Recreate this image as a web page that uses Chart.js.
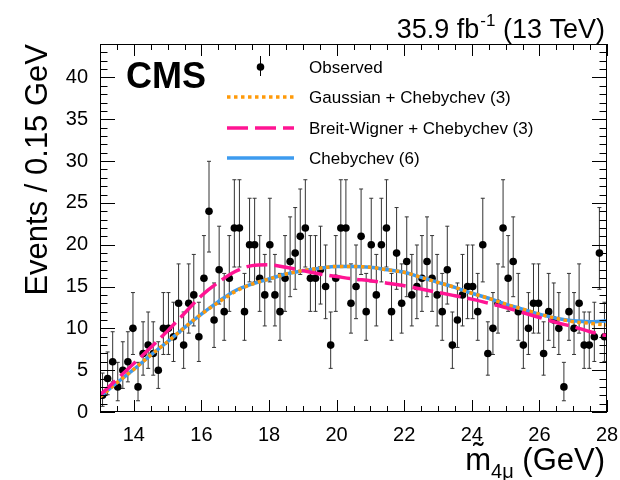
<!DOCTYPE html>
<html>
<head>
<meta charset="utf-8">
<script src="https://cdn.jsdelivr.net/npm/chart.js@4.4.0/dist/chart.umd.min.js"></script>
<style>
  html, body { margin: 0; padding: 0; background: #fff; }
  #wrap { width: 620px; height: 480px; }
</style>
</head>
<body>
<div id="wrap"><canvas id="c" width="620" height="480"></canvas></div>
<script>
// binning of the histogram (GeV)
const binStart = 13;
const binWidth = 0.15;

// observed events per bin (100 bins, 13 to 28 GeV)
const observed = [
  2, 4, 6, 3, 5, 6, 10, 3, 7, 8,
  7, 5, 10, 10, 9, 13, 8, 13, 14, 9,
  16, 24, 11, 17, 12, 16, 22, 22, 12, 20,
  20, 16, 14, 20, 14, 12, 16, 18, 19, 21,
  22, 16, 16, 17, 15, 8, 16, 22, 22, 13,
  15, 21, 12, 20, 14, 20, 22, 12, 19, 13,
  18, 14, 15, 16, 18, 16, 14, 12, 17, 8,
  11, 14, 15, 15, 12, 20, 7, 10, 13, 22,
  16, 18, 12, 8, 10, 13, 13, 7, 12, 11,
  10, 3, 12, 10, 13, 8, 8, 9, 19, 9
];

// fitted curves, sampled every 0.5 GeV
const curveX = [13, 13.5, 14, 14.5, 15, 15.5, 16, 16.5, 17, 17.5, 18, 18.5, 19, 19.5, 20, 20.5,
  21, 21.5, 22, 22.5, 23, 23.5, 24, 24.5, 25, 25.5, 26, 26.5, 27, 27.5, 28];
const gausCheb3 = [1.8, 3.5, 5.1, 6.8, 8.4, 10.1, 11.7, 13.1, 14.4, 15.3, 15.9, 16.5, 16.9, 17.2, 17.4, 17.4,
  17.3, 17.0, 16.7, 16.1, 15.5, 14.9, 14.2, 13.6, 12.9, 12.3, 11.7, 11.2, 10.8, 10.6, 10.4];
const bwCheb3 = [2.0, 3.9, 5.8, 7.7, 9.7, 11.8, 13.9, 15.5, 16.8, 17.5, 17.6, 17.3, 16.9, 16.5, 16.2, 15.9,
  15.7, 15.4, 15.1, 14.7, 14.3, 13.9, 13.5, 13.0, 12.5, 11.9, 11.3, 10.7, 10.2, 9.6, 9.1];
const cheb6 = [1.8, 3.5, 5.1, 6.8, 8.4, 10.1, 11.7, 13.2, 14.5, 15.3, 15.9, 16.5, 16.9, 17.2, 17.4, 17.4,
  17.3, 17.0, 16.7, 16.1, 15.5, 14.9, 14.2, 13.6, 12.9, 12.3, 11.7, 11.2, 10.9, 10.8, 10.9];

const legendLabels = ["Observed", "Gaussian + Chebychev (3)", "Breit-Wigner + Chebychev (3)", "Chebychev (6)"];

const FONT = "'Liberation Sans', Arial, Helvetica, sans-serif";
const ORANGE = "#ff9a0a";
const PINK = "#ff1493";
const BLUE = "#3d9bef";

// Poisson (Garwood-like) interval of a count
const errLow = n => (n > 0 ? n - Math.sqrt(n - 0.25) : 0);
const errHigh = n => n + 1 + Math.sqrt(n + 0.75);

const points = observed.map((n, i) => ({ x: binStart + binWidth * (i + 0.5), y: n }));
const toXY = ys => ys.map((y, i) => ({ x: curveX[i], y: y }));

const rootStyle = {
  id: "rootStyle",
  beforeDatasetsDraw(chart) {
    const { ctx, scales: { x, y } } = chart;
    ctx.save();
    ctx.strokeStyle = "#333";
    ctx.lineWidth = 1;
    observed.forEach((n, i) => {
      const px = x.getPixelForValue(points[i].x);
      const top = y.getPixelForValue(errHigh(n));
      const bot = y.getPixelForValue(errLow(n));
      ctx.beginPath();
      ctx.moveTo(px, top); ctx.lineTo(px, bot);
      ctx.moveTo(px - 2, top); ctx.lineTo(px + 2, top);
      ctx.moveTo(px - 2, bot); ctx.lineTo(px + 2, bot);
      ctx.stroke();
    });
    ctx.restore();
  },
  afterDraw(chart) {
    const { ctx, chartArea: a, scales: { x, y } } = chart;
    ctx.save();
    // frame
    ctx.strokeStyle = "#000";
    ctx.lineWidth = 1;
    ctx.strokeRect(a.left + 0.5, a.top + 0.5, a.right - a.left - 1, a.bottom - a.top - 1);

    // ticks on all four sides, pointing inward
    ctx.beginPath();
    for (let v = 0; v <= y.max + 1e-9; v += 1) {
      const py = Math.round(y.getPixelForValue(v)) + 0.5;
      const len = v % 5 === 0 ? 15 : 7.5;
      ctx.moveTo(a.left, py); ctx.lineTo(a.left + len, py);
      ctx.moveTo(a.right, py); ctx.lineTo(a.right - len, py);
    }
    for (let v = 13; v <= 28 + 1e-9; v += 0.5) {
      const px = Math.round(x.getPixelForValue(v)) + 0.5;
      const len = v % 2 === 0 ? 12 : 6;
      ctx.moveTo(px, a.bottom); ctx.lineTo(px, a.bottom - len);
      ctx.moveTo(px, a.top); ctx.lineTo(px, a.top + len);
    }
    ctx.stroke();

    ctx.fillStyle = "#000";
    ctx.textBaseline = "alphabetic";

    // CMS label
    ctx.font = "bold 36px " + FONT;
    ctx.textAlign = "left";
    ctx.fillText("CMS", 126, 88);

    // luminosity label
    ctx.font = "27px " + FONT;
    const lumiA = "35.9 fb", lumiSup = "-1", lumiB = " (13 TeV)";
    const wA = ctx.measureText(lumiA).width;
    const wB = ctx.measureText(lumiB).width;
    ctx.font = "17px " + FONT;
    const wS = ctx.measureText(lumiSup).width;
    const lx = 605 - wA - wS - wB - 1;
    ctx.font = "27px " + FONT;
    ctx.fillText(lumiA, lx, 38);
    ctx.font = "17px " + FONT;
    ctx.fillText(lumiSup, lx + wA + 1, 26);
    ctx.font = "27px " + FONT;
    ctx.fillText(lumiB, lx + wA + wS + 1, 38);

    // x axis title with subscript
    ctx.font = "31px " + FONT;
    const tA = "m\u0303", tB = " (GeV)";
    const wtA = ctx.measureText(tA).width;
    const wtB = ctx.measureText(tB).width;
    ctx.font = "20px " + FONT;
    const tSub = "4\u03bc";
    const wSub = ctx.measureText(tSub).width;
    const tx = 605 - wtA - wSub - wtB;
    ctx.font = "31px " + FONT;
    ctx.fillText(tA, tx, 470);
    ctx.font = "20px " + FONT;
    ctx.fillText(tSub, tx + wtA, 478);
    ctx.font = "31px " + FONT;
    ctx.fillText(tB, tx + wtA + wSub, 470);

    // legend
    const rows = [67, 97, 128, 158];
    ctx.font = "17px " + FONT;
    ctx.textBaseline = "middle";
    legendLabels.forEach((t, i) => ctx.fillText(t, 309, rows[i] + 1));
    // observed marker
    ctx.strokeStyle = "#000";
    ctx.beginPath();
    ctx.moveTo(260.5, rows[0] - 11); ctx.lineTo(260.5, rows[0] + 9);
    ctx.stroke();
    ctx.beginPath();
    ctx.arc(260.5, rows[0], 3.8, 0, Math.PI * 2);
    ctx.fill();
    // line samples, styled like the datasets
    const ds = chart.data.datasets;
    [1, 2, 3].forEach(k => {
      const d = ds[k];
      ctx.strokeStyle = d.borderColor;
      ctx.lineWidth = d.borderWidth;
      ctx.setLineDash(d.borderDash || []);
      ctx.beginPath();
      ctx.moveTo(227, rows[k]); ctx.lineTo(294, rows[k]);
      ctx.stroke();
    });
    ctx.restore();
  }
};

new Chart(document.getElementById("c"), {
  type: "scatter",
  data: {
    datasets: [
      {
        label: legendLabels[0],
        data: points,
        showLine: false,
        pointRadius: 3.8,
        pointBackgroundColor: "#000",
        pointBorderWidth: 0,
        order: 4
      },
      {
        label: legendLabels[1],
        data: toXY(gausCheb3),
        showLine: true,
        borderColor: ORANGE,
        borderWidth: 3.5,
        borderDash: [3.5, 3.5],
        pointRadius: 0,
        cubicInterpolationMode: "monotone",
        order: 2
      },
      {
        label: legendLabels[2],
        data: toXY(bwCheb3),
        showLine: true,
        borderColor: PINK,
        borderWidth: 3.5,
        borderDash: [21, 7],
        pointRadius: 0,
        cubicInterpolationMode: "monotone",
        order: 1
      },
      {
        label: legendLabels[3],
        data: toXY(cheb6),
        showLine: true,
        borderColor: BLUE,
        borderWidth: 3.5,
        pointRadius: 0,
        cubicInterpolationMode: "monotone",
        order: 3
      }
    ]
  },
  options: {
    responsive: false,
    animation: false,
    devicePixelRatio: 1,
    layout: { padding: { top: 44, right: 13, left: 0, bottom: 0 } },
    plugins: { legend: { display: false }, tooltip: { enabled: false } },
    scales: {
      x: {
        type: "linear",
        min: 13,
        max: 28,
        border: { display: false },
        grid: { display: false, drawTicks: false },
        ticks: {
          stepSize: 2,
          includeBounds: false,
          padding: 11,
          color: "#000",
          font: { size: 20, family: FONT },
          maxRotation: 0
        },
        afterFit: s => { s.height = 68; s.paddingLeft = 0; s.paddingRight = 0; }
      },
      y: {
        min: 0,
        max: 44,
        border: { display: false },
        grid: { display: false, drawTicks: false },
        ticks: {
          stepSize: 5,
          includeBounds: false,
          padding: 12,
          color: "#000",
          font: { size: 20, family: FONT }
        },
        title: {
          display: true,
          text: "Events / 0.15 GeV",
          align: "end",
          color: "#000",
          font: { size: 31, family: FONT },
          padding: { top: 20, bottom: 0 }
        },
        afterFit: s => { s.width = 100; s.paddingTop = 0; s.paddingBottom = 0; }
      }
    }
  },
  plugins: [rootStyle]
});
</script>
</body>
</html>
